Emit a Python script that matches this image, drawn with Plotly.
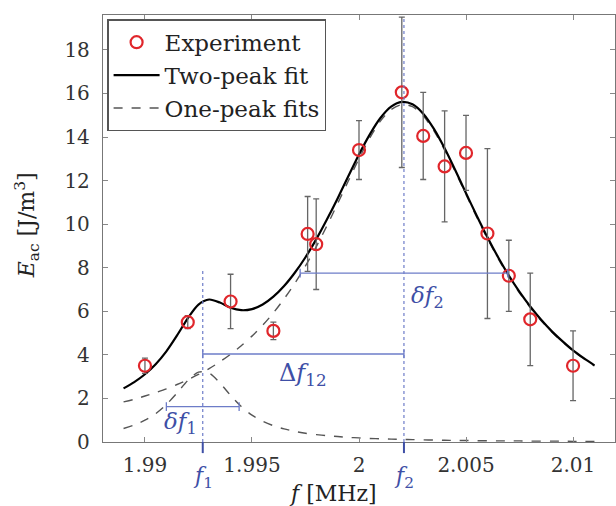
import plotly.graph_objects as go

# ---- experimental data ----
freq = [1.990, 1.992, 1.994, 1.996, 1.9976, 1.998, 2.000, 2.002, 2.003, 2.004, 2.005, 2.006, 2.007, 2.008, 2.010]
energy = [3.50, 5.50, 6.45, 5.10, 9.55, 9.08, 13.40, 16.05, 14.05, 12.65, 13.27, 9.57, 7.63, 5.63, 3.50]
energy_err = [0.35, 0.30, 1.25, 0.40, 1.72, 2.08, 1.35, 3.45, 2.00, 2.55, 1.72, 3.90, 1.63, 2.12, 1.60]

# ---- fit curves ----
fit_f = [1.9890, 1.9895, 1.9900, 1.9905, 1.9910, 1.9915, 1.9920, 1.9925, 1.9930, 1.9935,
         1.9940, 1.9945, 1.9950, 1.9955, 1.9960, 1.9965, 1.9970, 1.9975, 1.9980, 1.9985,
         1.9990, 1.9995, 2.0000, 2.0005, 2.0010, 2.0015, 2.0020, 2.0025, 2.0030, 2.0035,
         2.0040, 2.0045, 2.0050, 2.0055, 2.0060, 2.0065, 2.0070, 2.0075, 2.0080, 2.0085,
         2.0090, 2.0095, 2.0100, 2.0105, 2.0110]
two_peak = [2.46, 2.75, 3.11, 3.57, 4.16, 4.89, 5.68, 6.31, 6.54, 6.40,
            6.16, 6.05, 6.10, 6.31, 6.67, 7.16, 7.77, 8.48, 9.30, 10.21,
            11.18, 12.20, 13.20, 14.11, 14.87, 15.39, 15.61, 15.50, 15.07, 14.37,
            13.48, 12.47, 11.42, 10.39, 9.40, 8.48, 7.64, 6.89, 6.22, 5.62,
            5.09, 4.63, 4.21, 3.85, 3.52]
peak1 = [0.62, 0.78, 1.00, 1.30, 1.72, 2.25, 2.82, 3.21, 3.16, 2.71,
         2.14, 1.63, 1.23, 0.95, 0.75, 0.60, 0.49, 0.40, 0.34, 0.29,
         0.25, 0.21, 0.19, 0.16, 0.15, 0.13, 0.12, 0.11, 0.10, 0.09,
         0.08, 0.07, 0.07, 0.06, 0.06, 0.05, 0.05, 0.05, 0.04, 0.04,
         0.04, 0.04, 0.03, 0.03, 0.03]
peak2 = [1.84, 1.96, 2.11, 2.27, 2.44, 2.64, 2.86, 3.10, 3.37, 3.68,
         4.03, 4.42, 4.86, 5.36, 5.93, 6.57, 7.28, 8.08, 8.96, 9.92,
         10.94, 11.98, 13.01, 13.95, 14.73, 15.26, 15.49, 15.39, 14.97, 14.28,
         13.40, 12.40, 11.36, 10.32, 9.34, 8.42, 7.59, 6.84, 6.17, 5.58,
         5.06, 4.59, 4.18, 3.82, 3.49]

# ---- peak parameters ----
f1, f2 = 1.9927, 2.0021
df1, df2 = 0.0034, 0.0097
a1, a2 = 3.25, 15.5

x_ticks = [1.99, 1.995, 2.0, 2.005, 2.01]
x_tick_text = ["1.99", "1.995", "2", "2.005", "2.01"]
y_ticks = [0, 2, 4, 6, 8, 10, 12, 14, 16, 18]

SERIF = "DejaVu Serif"
BLUE_LINE = "#6d7cc8"
BLUE_TEXT = "#3e4fa6"

fig = go.Figure()

# one-peak fits (dashed)
fig.add_trace(go.Scatter(
    x=fit_f + [None] + fit_f, y=peak1 + [None] + peak2,
    mode="lines", name="One-peak fits", connectgaps=False,
    line=dict(color="#555555", width=1.4, dash="dash", shape="spline", smoothing=0.8),
    legendrank=3))

# two-peak fit
fig.add_trace(go.Scatter(
    x=fit_f, y=two_peak, mode="lines", name="Two-peak fit",
    line=dict(color="black", width=2.2, shape="spline", smoothing=0.8),
    legendrank=2))

# error bars only
fig.add_trace(go.Scatter(
    x=freq, y=energy, mode="markers", showlegend=False, hoverinfo="skip",
    marker=dict(size=2, color="rgba(0,0,0,0)"),
    error_y=dict(type="data", array=energy_err, visible=True,
                 color="#666666", thickness=1.3, width=3)))

# experiment markers
fig.add_trace(go.Scatter(
    x=freq, y=energy, mode="markers", name="Experiment",
    marker=dict(symbol="circle-open", size=12, color="#e0262b", line=dict(width=2.2)),
    legendrank=1))

shapes = []
# dotted vertical guides at f1, f2
shapes.append(dict(type="line", xref="x", yref="y", x0=f1, x1=f1, y0=0, y1=7.95,
                   line=dict(color=BLUE_LINE, width=1.2, dash="dot")))
shapes.append(dict(type="line", xref="x", yref="y", x0=f2, x1=f2, y0=0, y1=19.5,
                   line=dict(color=BLUE_LINE, width=1.2, dash="dot")))
# blue ticks below the axis
for fv in (f1, f2):
    shapes.append(dict(type="line", xref="x", yref="paper", x0=fv, x1=fv, y0=0, y1=-0.026,
                       line=dict(color=BLUE_TEXT, width=2)))


def hbar(xa, xb, yv, cap=0.2):
    shapes.append(dict(type="line", xref="x", yref="y", x0=xa, x1=xb, y0=yv, y1=yv,
                       line=dict(color=BLUE_LINE, width=1.3)))
    for xv in (xa, xb):
        shapes.append(dict(type="line", xref="x", yref="y", x0=xv, x1=xv,
                           y0=yv - cap, y1=yv + cap, line=dict(color=BLUE_LINE, width=1.3)))


hbar(f1, f2, 4.04)                         # Δf12
hbar(f1 - df1 / 2, f1 + df1 / 2, a1 / 2)   # δf1
hbar(f2 - df2 / 2, f2 + df2 / 2, a2 / 2)   # δf2


def ann(x, y, text, size, color, xref="x", yref="y", **kw):
    return dict(x=x, y=y, xref=xref, yref=yref, text=text, showarrow=False,
                xanchor="center", yanchor="middle",
                font=dict(family=SERIF, size=size, color=color), **kw)


annotations = [
    ann(1.99738, 3.08, "Δ<i>f</i><sub>12</sub>", 24, BLUE_TEXT),
    ann(1.99168, 0.85, "<i>δf</i><sub>1</sub>", 23, BLUE_TEXT),
    ann(2.00322, 6.67, "<i>δf</i><sub>2</sub>", 23, BLUE_TEXT),
    ann(f1, -0.082, "<i>f</i><sub>1</sub>", 22, BLUE_TEXT, yref="paper"),
    ann(f2, -0.082, "<i>f</i><sub>2</sub>", 22, BLUE_TEXT, yref="paper"),
    ann(0.449, -0.12, "<i>f</i> [MHz]", 22, "#222", xref="paper", yref="paper"),
    ann(-0.148, 0.508, "<i>E</i><sub>ac</sub> [J/m<sup>3</sup>]", 22, "#222",
        xref="paper", yref="paper", textangle=-90),
]

axis_common = dict(showgrid=False, zeroline=False, showline=True, linecolor="#777777",
                   linewidth=1.3, mirror="ticks", ticks="inside", ticklen=5,
                   tickcolor="#888888", tickwidth=1,
                   tickfont=dict(family=SERIF, size=20, color="#333"))

fig.update_layout(
    width=616, height=506,
    margin=dict(l=103, r=1, t=15, b=64),
    paper_bgcolor="white", plot_bgcolor="white",
    font=dict(family=SERIF, size=20, color="#222"),
    xaxis=dict(range=[1.98804, 2.01196], tickvals=x_ticks, ticktext=x_tick_text,
               ticklabelstandoff=5, **axis_common),
    yaxis=dict(range=[0, 19.6], tickvals=y_ticks, ticklabelstandoff=8, **axis_common),
    legend=dict(x=0.008, y=0.99, xanchor="left", yanchor="top",
                bgcolor="white", bordercolor="#555555", borderwidth=1.5,
                font=dict(family=SERIF, size=23, color="#222"),
                traceorder="normal", itemwidth=46),
    shapes=shapes, annotations=annotations, showlegend=True,
)

fig.write_html("out.html")
